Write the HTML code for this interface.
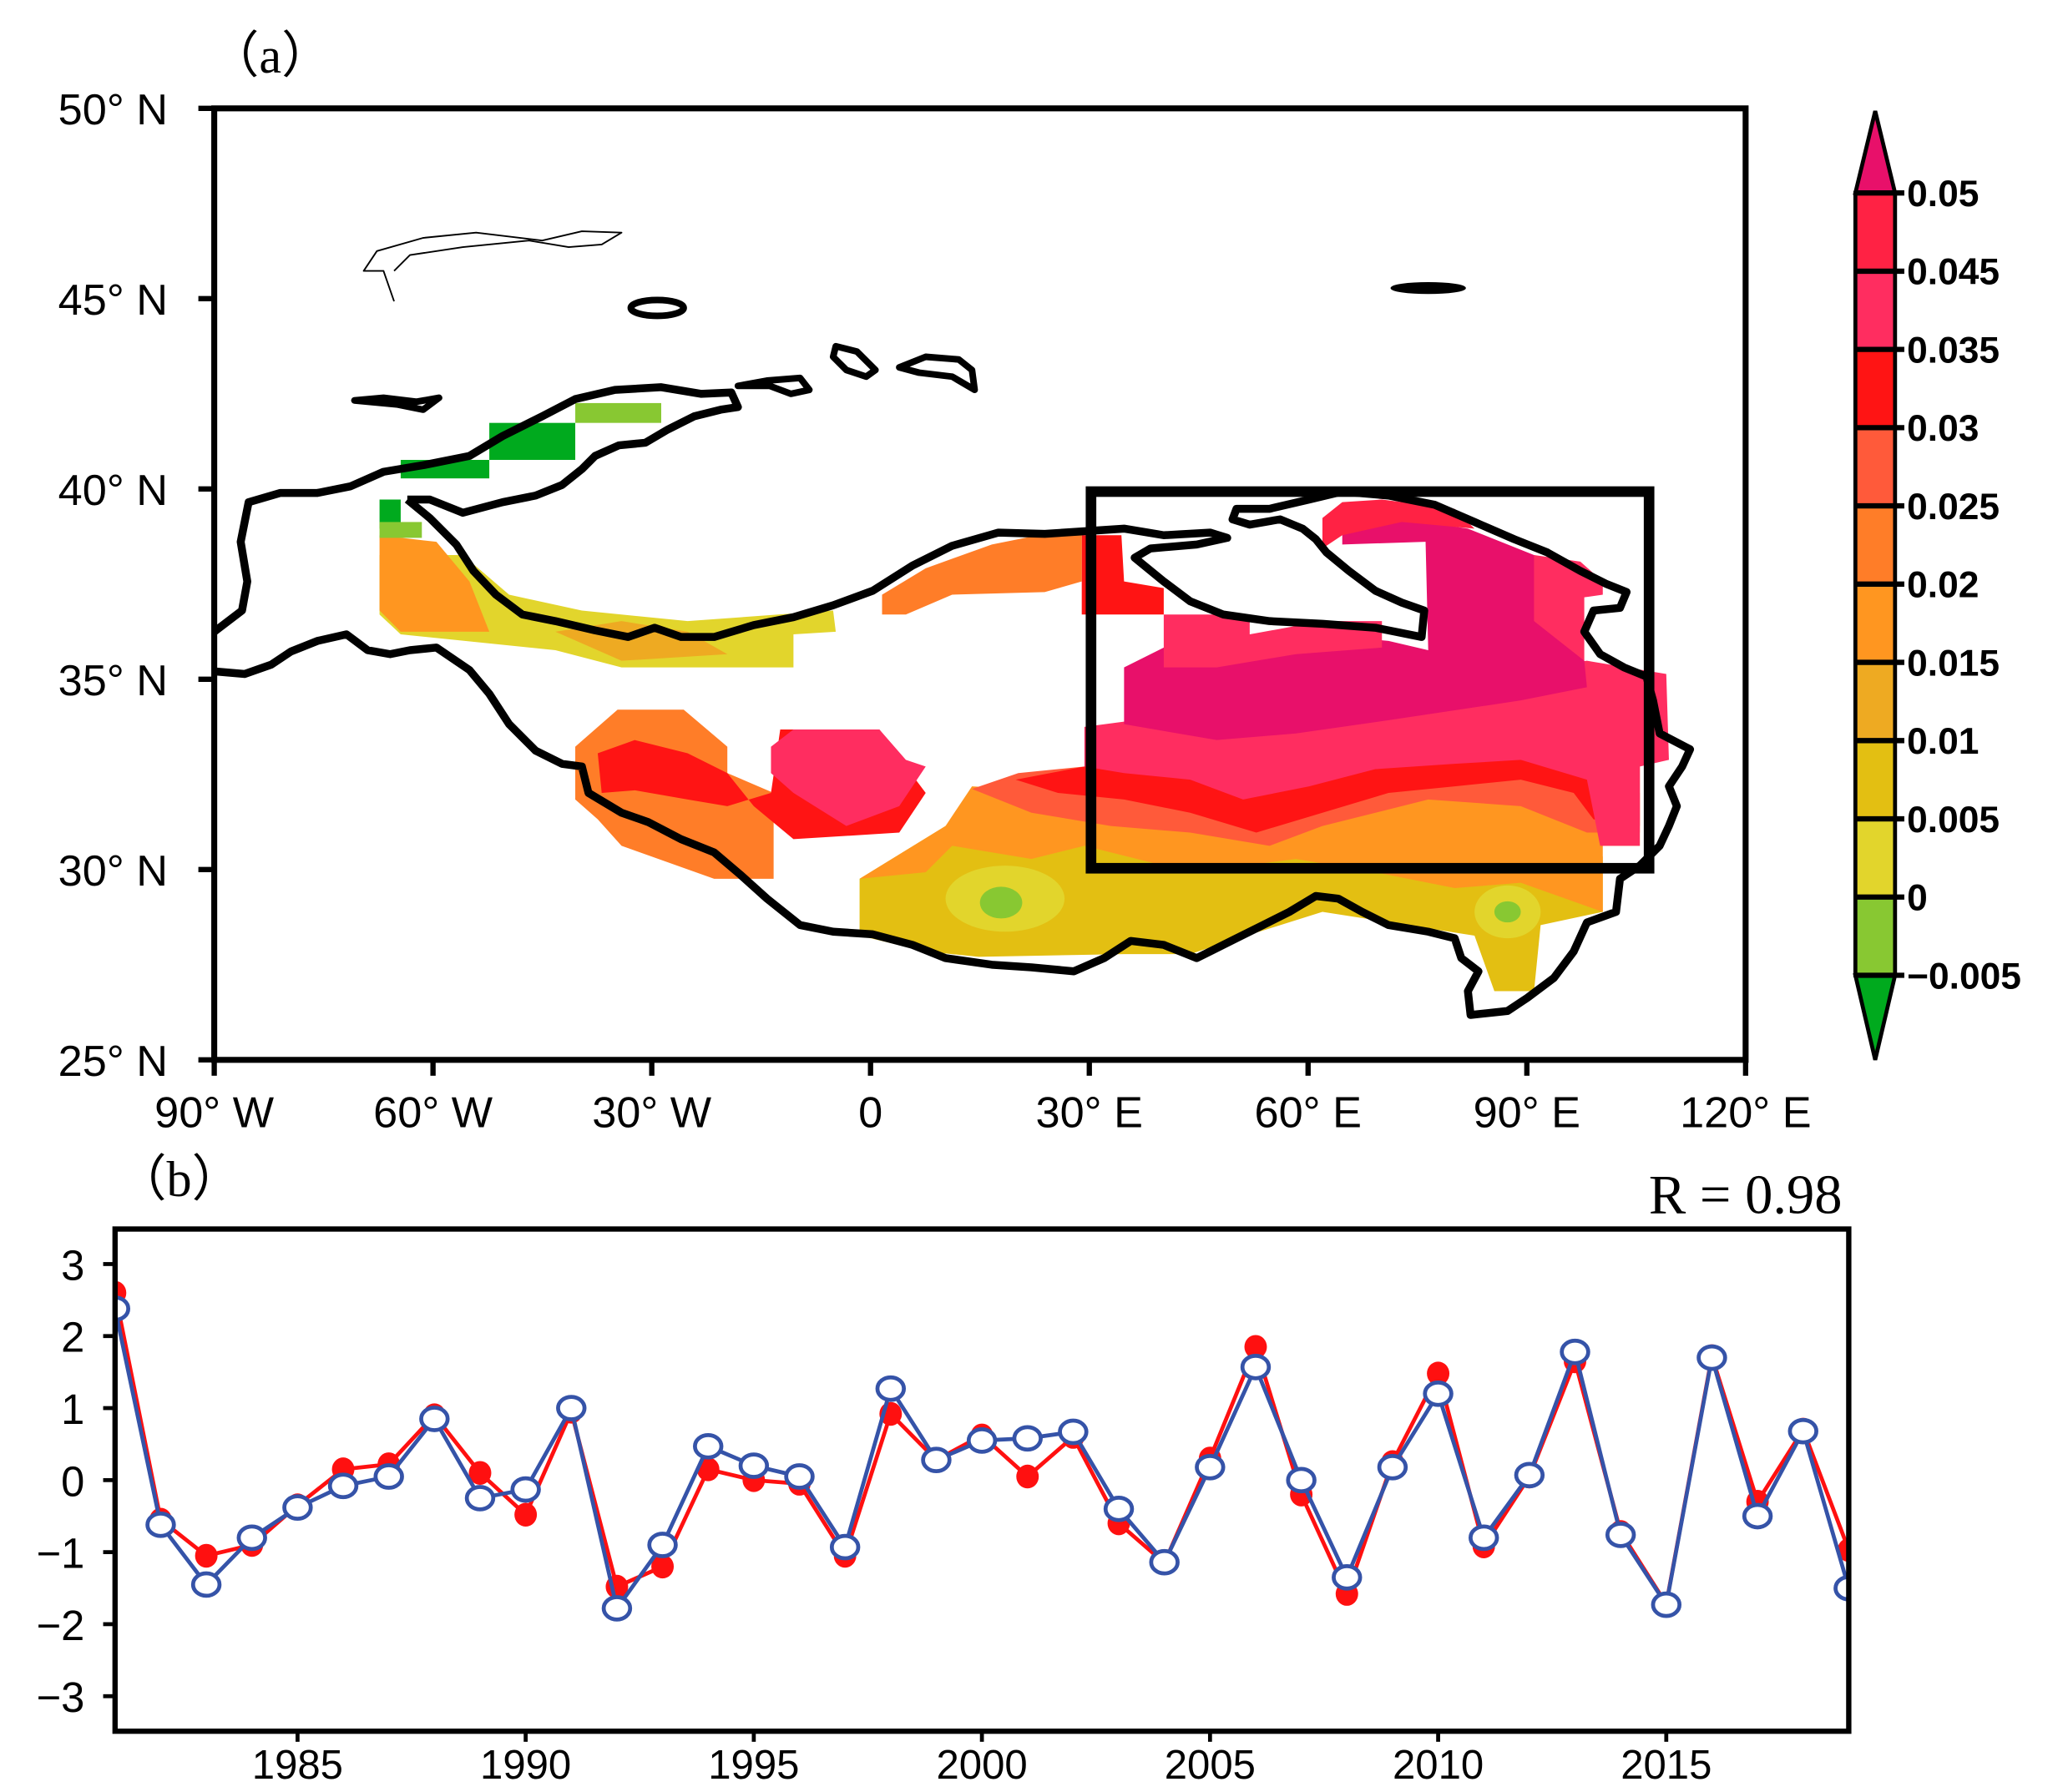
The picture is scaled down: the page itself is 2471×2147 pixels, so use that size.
<!DOCTYPE html>
<html><head><meta charset="utf-8"><style>
html,body{margin:0;padding:0;background:#fff;}
svg{display:block;}
</style></head><body>
<svg id="fig" width="2471" height="2147" viewBox="0 0 1560 1356" preserveAspectRatio="none" xmlns="http://www.w3.org/2000/svg" style="font-family:'Liberation Sans',sans-serif;">
<defs>
<clipPath id="mapclip"><rect x="162" y="82" width="1158" height="720"/></clipPath>
<clipPath id="tsclip"><rect x="87" y="930" width="1311" height="380"/></clipPath>
</defs>
<text x="158" y="55" style="font-family:'Liberation Serif',serif;font-size:38px">（a）</text>
<g clip-path="url(#mapclip)">
  <polygon fill="#e2d52c" points="287,420 350,420 385,450 440,462 520,470 630,462 632,478 600,480 600,505 470,505 420,492 303,480 287,465"/>
  <polygon fill="#ff9620" points="287,405 330,410 355,440 370,478 303,478 287,462"/>
  <polygon fill="#eeaa22" points="420,478 470,470 520,478 550,495 470,500"/>
  <rect fill="#00aa1e" x="303" y="348" width="67" height="14"/>
  <rect fill="#00aa1e" x="370" y="320" width="65" height="28"/>
  <rect fill="#88c832" x="435" y="305" width="65" height="15"/>
  <rect fill="#00aa1e" x="287" y="378" width="16" height="22"/>
  <rect fill="#88c832" x="287" y="395" width="32" height="12"/>
  <polygon fill="#e3bf12" points="650,665 715,625 820,618 1000,640 1212,648 1212,690 1165,700 1160,750 1130,750 1115,708 1000,690 930,712 900,722 850,722 740,724 700,720 650,708"/>
  <polygon fill="#ff9620" points="650,665 700,660 720,640 780,650 820,640 900,660 980,650 1040,660 1100,672 1150,668 1212,690 1212,640 1240,640 1240,600 820,600 735,595 715,625"/>
  <ellipse fill="#e2d52c" cx="760" cy="680" rx="45" ry="25"/>
  <ellipse fill="#88c832" cx="757" cy="683" rx="16" ry="12"/>
  <ellipse fill="#e2d52c" cx="1140" cy="690" rx="25" ry="20"/>
  <ellipse fill="#88c832" cx="1140" cy="690" rx="10" ry="8"/>
  <polygon fill="#ff7d28" points="467,537 517,537 550,565 550,585 585,600 585,665 540,665 470,640 452,620 435,605 435,565"/>
  <polygon fill="#ff1414" points="452,570 480,560 520,570 550,585 570,610 600,635 680,630 700,600 685,580 665,552 590,552 583,600 550,610 520,605 480,598 455,600"/>
  <polygon fill="#ff2d60" points="600,552 665,552 685,575 700,580 680,610 640,625 600,600 583,585 583,565"/>
  <polygon fill="#ff5a3a" points="735,597 770,585 820,580 1240,575 1240,630 1200,630 1150,610 1080,605 1000,625 960,640 900,630 840,625 780,615"/>
  <polygon fill="#ff1414" points="768,590 820,580 1240,560 1240,625 1205,620 1190,600 1150,590 1100,595 1050,600 1000,615 950,630 900,615 850,605 800,600"/>
  <polygon fill="#ff2d60" points="820,550 1200,500 1260,510 1262,575 1240,580 1240,640 1210,640 1200,590 1150,575 1100,578 1040,582 990,595 940,605 900,590 850,585 820,580"/>
  <polygon fill="#e8106a" points="850,505 880,490 930,485 1000,480 1050,485 1080,492 1078,410 1015,412 1015,398 1060,392 1110,400 1160,420 1195,430 1198,500 1200,520 1150,530 1050,545 980,555 920,560 850,548"/>
  <polygon fill="#ff2d60" points="880,465 945,465 945,480 1000,470 1045,470 1045,490 980,495 920,505 880,505"/>
  <polygon fill="#ff2244" points="1000,392 1015,380 1045,378 1100,385 1115,400 1060,395 1015,405 1000,415"/>
  <polygon fill="#ff2d60" points="1160,420 1195,425 1212,440 1212,450 1198,452 1198,500 1160,470"/>
  <polygon fill="#ff1414" points="818,405 848,405 850,440 880,445 880,465 818,465"/>
  <polygon fill="#ff7d28" points="667,450 700,430 750,412 785,405 818,405 818,440 790,448 720,450 685,465 667,465"/>
</g>
<g fill="none" stroke="#000" stroke-linejoin="round" clip-path="url(#mapclip)">
  <path stroke-width="6" d="M162,478 L183,462 L187,440 L182,410 L188,380 L212,373 L240,373 L265,368 L290,357 L320,352 L355,345 L380,330 L410,315 L435,302 L465,295 L500,293 L530,298 L553,297 L558,308 L545,310 L525,315 L505,325 L488,335 L468,337 L450,345 L440,355 L425,367 L405,375 L380,380 L350,388 L325,378 L308,378"/>
  <path stroke-width="6" d="M308,378 L325,392 L345,412 L358,432 L375,450 L395,465 L420,470 L450,477 L475,482 L495,475 L515,482 L540,482 L570,473 L600,467 L630,458 L660,447 L690,428 L720,413 L755,403 L790,404 L820,402 L850,400 L880,405 L915,403 L928,407 L905,412 L870,415 L858,422 L880,440 L900,455 L925,465 L960,470 L1000,472 L1040,475 L1075,482 L1077,462 L1060,456 L1040,447 L1020,432 L1003,418 L995,408 L985,400 L968,393 L945,397 L932,393 L935,385 L960,385 L990,378 L1015,372 L1050,375 L1085,382 L1115,395 L1145,408 L1170,418 L1195,432 L1215,442 L1230,448 L1225,460 L1205,462 L1198,478 L1210,495 L1228,505 L1245,512 L1250,530 L1255,555 L1278,567 L1272,580 L1262,595 L1268,610 L1262,625 L1255,640 L1240,655 L1225,665 L1222,690 L1200,698 L1190,720 L1175,740 L1155,755 L1140,765 L1112,768 L1110,750 L1118,735 L1105,725 L1100,710 L1080,705 L1050,700 L1030,690 L1012,680 L995,678 L975,690 L955,700 L935,710 L905,725 L880,715 L855,712 L835,725 L812,735 L780,732 L750,730 L715,725 L690,715 L660,707 L630,705 L605,700 L580,680 L560,662 L540,645 L515,635 L490,622 L470,615 L445,600 L440,580 L425,578 L405,568 L385,548 L370,525 L355,507 L330,490 L310,492 L295,495 L278,492 L262,480 L240,485 L220,493 L205,503 L185,510 L162,508"/>
  <ellipse stroke-width="5" cx="497" cy="233" rx="20" ry="6"/>
  <ellipse fill="#000" stroke-width="1" cx="1080" cy="218" rx="28" ry="4"/>
  <path stroke-width="5" d="M632,262 L648,266 L662,280 L655,285 L640,280 L630,270 Z"/>
  <path stroke-width="5" d="M680,278 L700,270 L725,272 L735,280 L737,295 L720,285 L695,282 Z"/>
  <path stroke-width="5" d="M558,292 L580,288 L605,286 L612,295 L598,298 L582,292 Z"/>
  <path stroke-width="5" d="M268,303 L290,301 L315,304 L332,301 L320,310 L300,306 Z"/>
  <path stroke-width="1.2" d="M298,228 L290,205 L275,205 L285,190 L320,180 L360,176 L410,182 L440,175 L470,176 L455,185 L430,187 L400,182 L350,187 L310,193 L298,205"/>
</g>
<rect x="825" y="372" width="422" height="285" fill="none" stroke="#000" stroke-width="8"/>
<rect x="162" y="82" width="1158" height="720" fill="none" stroke="#000" stroke-width="4.5"/>
<g id="mapaxes" style="font-size:33px"></g>
<g id="cbar"></g>
<text x="88" y="905" style="font-family:'Liberation Serif',serif;font-size:38px">（b）</text>
<text x="1393" y="918" text-anchor="end" style="font-family:'Liberation Serif',serif;font-size:42px">R = 0.98</text>
<g id="ts"></g>
<rect x="87" y="930" width="1311" height="380" fill="none" stroke="#000" stroke-width="4"/>
</svg>
<script>
const NS="http://www.w3.org/2000/svg";
const latTicks=[50,45,40,35,30,25];
const lonTicks=["90° W","60° W","30° W","0","30° E","60° E","90° E","120° E"];
const lonVals=[-90,-60,-30,0,30,60,90,120];
const cbLabels=["0.05","0.045","0.035","0.03","0.025","0.02","0.015","0.01","0.005","0","−0.005"];
const cbColors=["#ff2244","#ff2d60","#ff1414","#ff5a3a","#ff7d28","#ff9620","#eeaa22","#e3bf12","#e2d52c","#88c832"];
const years=[];for(let y=1981;y<=2019;y++)years.push(y);
const redVals=[2.6,-0.55,-1.05,-0.9,-0.35,0.15,0.22,0.9,0.1,-0.48,0.95,-1.48,-1.2,0.15,0.0,-0.05,-1.05,0.92,0.28,0.62,0.05,0.6,-0.6,-1.15,0.3,1.85,-0.2,-1.58,0.25,1.48,-0.92,0.05,1.65,-0.72,-1.72,1.72,-0.3,0.7,-0.97];
const blueVals=[2.38,-0.62,-1.45,-0.8,-0.38,-0.08,0.05,0.85,-0.25,-0.13,1.0,-1.78,-0.9,0.47,0.2,0.05,-0.93,1.27,0.28,0.55,0.58,0.67,-0.4,-1.14,0.18,1.57,0.0,-1.35,0.18,1.2,-0.8,0.07,1.78,-0.76,-1.73,1.7,-0.5,0.68,-1.5];
const yTicks=[3,2,1,0,-1,-2,-3];
const xTicks=[1985,1990,1995,2000,2005,2010,2015];
function mk(tag,attrs,parent){const e=document.createElementNS(NS,tag);for(const k in attrs)e.setAttribute(k,attrs[k]);parent.appendChild(e);return e;}
const latY=v=>82+(50-v)*28.8, lonX=v=>162+(v+90)*(1158/210);
const ma=document.getElementById('mapaxes');
latTicks.forEach(v=>{const y=latY(v);
 let l=mk('line',{x1:150,x2:162,y1:y,y2:y,stroke:'#000','stroke-width':4},ma);
 
 
 let t=mk('text',{x:44,y:y+12},ma);t.textContent=v+"° N";
 
 });
lonVals.forEach((v,i)=>{const x=lonX(v);
 let l=mk('line',{x1:x,x2:x,y1:802,y2:814,stroke:'#000','stroke-width':4},ma);
 
 
 let t=mk('text',{x:x,y:853,'text-anchor':'middle'},ma);t.textContent=lonTicks[i];
 
 });
const cb=document.getElementById('cbar');
const cbY=i=>146+i*59.2;
cbColors.forEach((c,i)=>{let r=mk('rect',{x:1403,y:cbY(i),width:30,height:59.2,fill:c},cb);
 
 });
let tt=mk('polygon',{points:"1403,146 1433,146 1418,84",fill:"#e8106a",stroke:"#000","stroke-width":3},cb);


let tb=mk('polygon',{points:"1403,738 1433,738 1418,802",fill:"#00aa1e",stroke:"#000","stroke-width":3},cb);


let cbf=mk('rect',{x:1403,y:146,width:30,height:592,fill:'none',stroke:'#000','stroke-width':3},cb);


cbLabels.forEach((s,i)=>{const y=cbY(i);
 let l=mk('line',{x1:1403,x2:1440,y1:y,y2:y,stroke:'#000','stroke-width':4},cb);
 
 
 let t=mk('text',{x:1442,y:y+10,style:'font-size:28px;font-weight:bold'},cb);t.textContent=s;
 
 });
const ts=document.getElementById('ts');
const xS=y=>87+(y-1981)*(1311/38), yS=v=>1120-v*54.5;
yTicks.forEach(v=>{const y=yS(v);
 let l=mk('line',{x1:78,x2:87,y1:y,y2:y,stroke:'#000','stroke-width':3},ts);
 
 
 let t=mk('text',{x:64,y:y+12,'text-anchor':'end',style:'font-size:32px'},ts);t.textContent=v<0?"−"+(-v):String(v);
 
 });
xTicks.forEach(v=>{const x=xS(v);
 let l=mk('line',{x1:x,x2:x,y1:1310,y2:1318,stroke:'#000','stroke-width':3},ts);
 
 
 let t=mk('text',{x:x,y:1346,'text-anchor':'middle',style:'font-size:31px'},ts);t.textContent=v;
 
 });
const g=mk('g',{'clip-path':'url(#tsclip)'},ts);


let rl=mk('polyline',{points:years.map((y,i)=>xS(y)+","+yS(redVals[i])).join(" "),fill:'none',stroke:'#ff1010','stroke-width':3},g);


years.forEach((y,i)=>{let c=mk('ellipse',{cx:xS(y),cy:yS(redVals[i]),rx:8.5,ry:9,fill:'#ff1010'},g);
 
 });
let bl=mk('polyline',{points:years.map((y,i)=>xS(y)+","+yS(blueVals[i])).join(" "),fill:'none',stroke:'#3553a8','stroke-width':3},g);


years.forEach((y,i)=>{let c=mk('ellipse',{cx:xS(y),cy:yS(blueVals[i]),rx:10,ry:8.5,fill:'#fff',stroke:'#3553a8','stroke-width':3},g);
 
 });
</script>
</body></html>
